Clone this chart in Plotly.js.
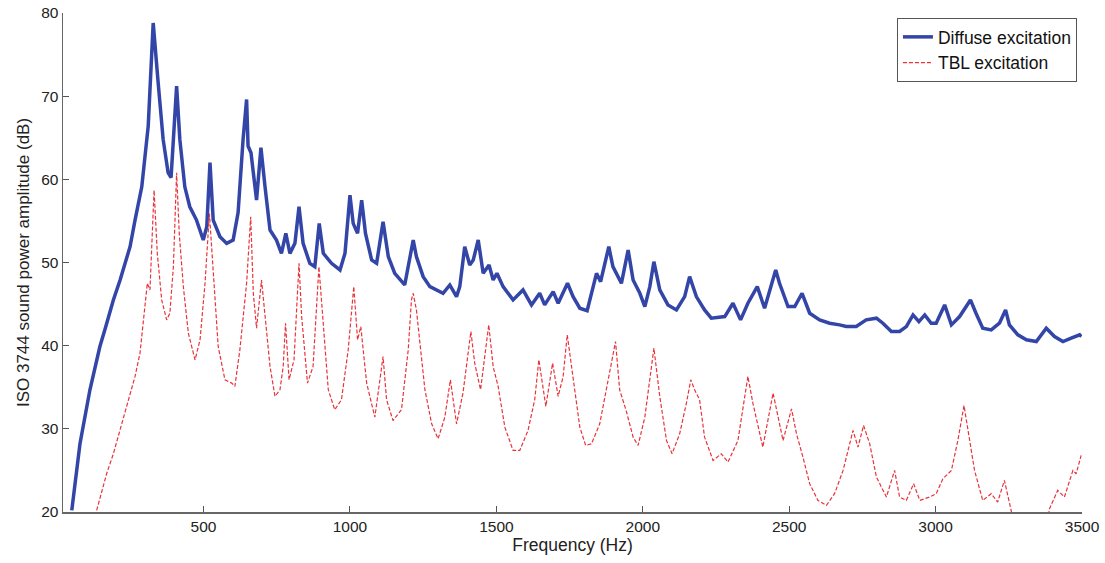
<!DOCTYPE html>
<html>
<head>
<meta charset="utf-8">
<script src="https://cdn.plot.ly/plotly-3.0.1.min.js"></script>
<style>
  html, body { margin: 0; padding: 0; background: #fff; }
  #chart { width: 1105px; height: 563px; }
</style>
</head>
<body>
<div id="chart"></div>
<script>
// Diffuse excitation (blue) — frequency (Hz) and level (dB)
const diffuseFreq = [50,78,112,146,163,192,215,249,266,289,311,328,345,362,379,389,397,408,419,436,453,476,499,511,522,533,556,579,601,618,635,647,652,662,681,696,710,727,749,766,781,795,812,826,840,863,880,895,909,937,966,983,1000,1011,1026,1040,1053,1074,1091,1113,1131,1153,1187,1204,1216,1227,1250,1273,1296,1318,1341,1364,1375,1392,1409,1421,1438,1455,1475,1489,1502,1523,1557,1591,1620,1648,1665,1694,1711,1743,1762,1785,1810,1842,1856,1884,1898,1927,1950,1967,1990,2007,2024,2038,2058,2086,2115,2143,2160,2183,2211,2234,2280,2308,2334,2359,2391,2416,2454,2467,2496,2519,2544,2570,2604,2638,2672,2695,2729,2763,2798,2820,2849,2877,2900,2923,2943,2963,2985,3002,3031,3054,3082,3119,3138,3161,3190,3218,3239,3252,3281,3310,3344,3378,3406,3435,3463,3492,3498];
const diffuseDb = [20.2,28.2,34.7,39.9,41.9,45.5,47.9,51.9,55.1,59.1,66.4,78.8,71.6,64.8,60.8,60.2,64.8,71.2,64.8,59.1,56.7,55.1,52.7,54.3,62.0,55.1,53.1,52.3,52.7,56.0,64.8,69.6,64.0,63.2,57.5,63.8,59.1,53.9,52.7,51.1,53.5,51.1,52.3,56.7,52.3,49.9,49.5,54.7,51.1,49.9,49.1,51.1,58.1,54.7,53.5,57.5,53.5,50.3,49.9,54.9,50.7,48.7,47.3,50.3,52.7,50.7,48.3,47.1,46.7,46.3,47.3,45.9,47.1,51.9,49.7,50.3,52.7,48.7,49.7,47.9,48.7,47.1,45.5,46.7,44.9,46.3,44.9,46.5,45.1,47.5,45.9,44.5,44.2,48.7,47.7,51.9,49.5,47.5,51.5,47.9,46.3,44.7,47.1,50.1,46.7,44.9,44.3,45.9,48.3,45.9,44.3,43.3,43.5,45.1,43.1,45.1,47.1,44.5,49.1,47.5,44.7,44.7,46.3,43.9,43.1,42.7,42.5,42.3,42.3,43.1,43.3,42.7,41.7,41.7,42.3,43.7,42.9,43.7,42.7,42.7,44.9,42.5,43.5,45.5,43.9,42.1,41.9,42.7,44.3,42.5,41.3,40.7,40.5,42.1,41.1,40.5,40.9,41.3,41.1];

// TBL excitation (red) — frequency (Hz) and level (dB)
const tblFreq = [135,169,192,220,249,266,283,308,317,331,342,357,374,385,397,408,417,431,448,471,488,505,520,533,550,573,596,607,624,647,661,670,681,698,710,727,744,761,772,780,792,809,826,835,855,874,894,905,926,948,971,994,1013,1026,1037,1057,1085,1113,1125,1147,1176,1199,1210,1216,1227,1239,1256,1279,1301,1324,1343,1364,1386,1413,1426,1446,1474,1489,1506,1529,1557,1580,1608,1631,1645,1669,1692,1711,1728,1742,1762,1785,1805,1825,1853,1876,1907,1921,1944,1967,1984,2007,2038,2058,2081,2100,2126,2149,2164,2177,2194,2211,2240,2268,2291,2325,2345,2359,2376,2399,2410,2445,2479,2508,2525,2547,2570,2598,2627,2655,2684,2718,2735,2754,2775,2798,2832,2860,2877,2900,2925,2946,2980,3002,3025,3054,3076,3097,3110,3133,3161,3190,3212,3235,3258,3264,3300,3360,3385,3389,3417,3440,3469,3480,3497];
const tblDb = [20.2,24.6,27.0,30.6,34.3,36.3,39.1,47.5,46.7,58.7,51.1,45.5,43.1,43.9,49.5,60.8,53.5,47.1,41.5,38.3,40.7,47.5,55.9,49.5,39.9,35.9,35.5,35.1,39.5,47.5,55.5,46.3,42.1,47.9,43.5,37.5,33.9,34.7,37.5,42.7,35.9,38.3,49.9,43.5,35.5,37.5,49.5,44.7,34.7,32.3,33.5,39.5,47.1,40.7,42.3,35.5,31.4,38.7,33.5,31.0,32.3,39.5,45.5,46.3,44.3,40.3,34.7,30.6,28.8,31.4,35.9,30.6,34.3,41.7,37.9,34.7,42.5,37.5,35.1,30.2,27.4,27.4,29.8,33.5,38.3,32.7,37.9,33.9,36.3,41.3,36.3,30.2,28.0,28.2,30.6,34.7,40.5,34.7,32.1,29.0,28.0,31.4,39.7,33.9,28.6,27.0,29.4,33.1,35.9,34.7,33.5,29.0,26.2,27.0,26.0,28.6,33.1,36.3,33.1,29.4,27.8,34.3,28.6,32.4,29.4,26.6,23.4,21.4,20.8,22.2,25.0,29.8,27.8,30.4,28.2,24.2,21.8,25.0,21.8,21.4,23.4,21.4,21.8,22.2,24.0,25.0,28.6,32.8,29.8,25.0,21.4,22.2,21.2,23.8,20.2,19.0,17.0,17.0,19.5,20.4,22.6,21.8,25.0,24.6,26.8];

const xTicks = [500,1000,1500,2000,2500,3000,3500];
const yTicks = [20,30,40,50,60,70,80];

const FONT = 'Liberation Sans, Arial, Helvetica, sans-serif';

const traces = [
  {
    x: diffuseFreq, y: diffuseDb, type: 'scatter', mode: 'lines',
    name: 'Diffuse excitation',
    line: {color: '#3346a8', width: 3.5}
  },
  {
    x: tblFreq, y: tblDb, type: 'scatter', mode: 'lines',
    name: 'TBL excitation',
    line: {color: '#e8333a', width: 1.2, dash: '4px,2px'}
  }
];

const layout = {
  width: 1105, height: 563,
  paper_bgcolor: '#ffffff', plot_bgcolor: '#ffffff',
  margin: {l: 63, r: 23, t: 13, b: 51},
  font: {family: FONT, size: 15, color: '#222'},
  showlegend: true,
  legend: {
    x: 0.8184, y: 0.99, xanchor: 'left', yanchor: 'top',
    bgcolor: '#ffffff', bordercolor: '#555', borderwidth: 1,
    font: {family: FONT, size: 17.5, color: '#111'},
    tracegroupgap: 0, itemwidth: 30
  },
  xaxis: {
    range: [20, 3500], tickvals: xTicks, ticktext: xTicks.map(String),
    ticks: 'inside', ticklen: 6, tickcolor: '#555', tickwidth: 1,
    showline: true, linecolor: '#666', linewidth: 1.5, mirror: false,
    showgrid: false, zeroline: false,
    tickfont: {family: FONT, size: 15.5, color: '#222'},
    title: {text: 'Frequency (Hz)', font: {family: FONT, size: 17.5, color: '#222'}, standoff: 4}
  },
  yaxis: {
    range: [20, 80], tickvals: yTicks, ticktext: yTicks.map(String),
    ticks: 'inside', ticklen: 6, tickcolor: '#555', tickwidth: 1,
    showline: true, linecolor: '#666', linewidth: 1.5, mirror: false,
    showgrid: false, zeroline: false,
    tickfont: {family: FONT, size: 15.5, color: '#222'},
    title: {text: 'ISO 3744 sound power amplitude (dB)', font: {family: FONT, size: 17, color: '#222'}, standoff: 7}
  }
};

Plotly.newPlot('chart', traces, layout, {displayModeBar: false, staticPlot: true});
</script>
</body>
</html>
